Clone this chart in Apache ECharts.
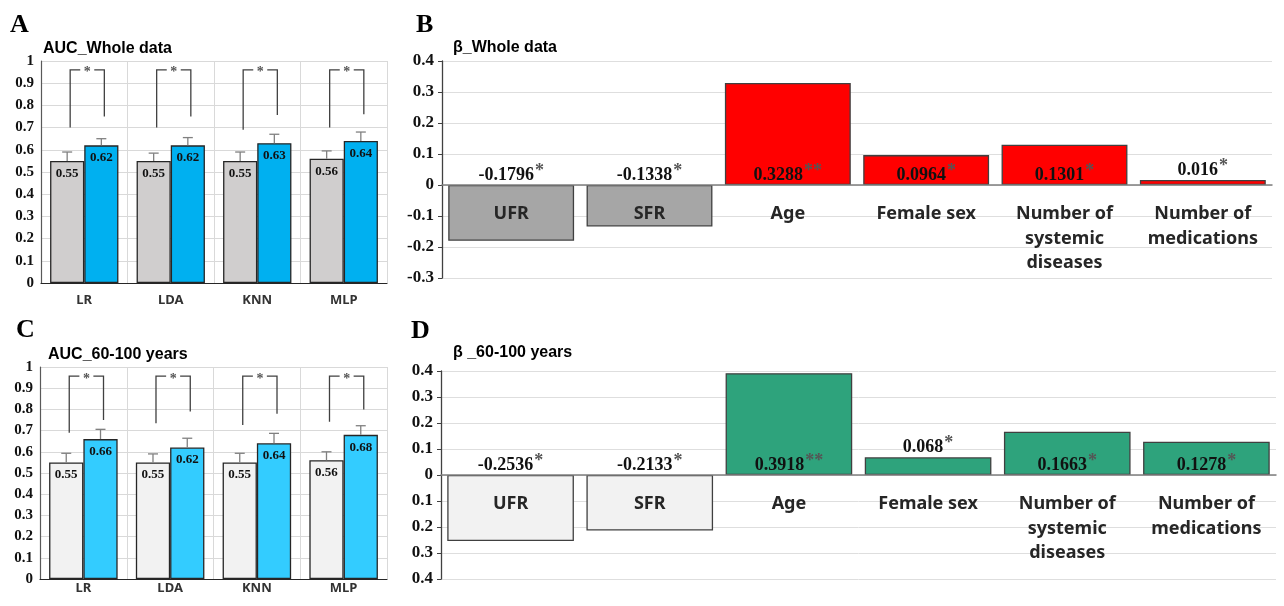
<!DOCTYPE html>
<html>
<head>
<meta charset="utf-8">
<script src="https://cdn.jsdelivr.net/npm/echarts@6/dist/echarts.min.js"></script>
<style>
  html, body { margin: 0; padding: 0; background: #fff; }
  #chart { width: 1284px; height: 606px; }
</style>
</head>
<body>
<div id="chart"></div>
<script>
// ---- AUC panels (A: whole data, C: 60-100 years) ----
const methods = ['LR', 'LDA', 'KNN', 'MLP'];

const aucWholeBase = [0.55, 0.55, 0.55, 0.56];
const aucWholeModel = [0.62, 0.62, 0.63, 0.64];
const aucWholeBaseErrTop = [0.59, 0.585, 0.59, 0.595];
const aucWholeModelErrTop = [0.65, 0.655, 0.67, 0.68];
const sigWholeLeft = [0.70, 0.70, 0.69, 0.70];
const sigWholeRight = [0.75, 0.75, 0.757, 0.76];
const sigWholeTop = [0.96, 0.96, 0.96, 0.96];

const aucOldBase = [0.55, 0.55, 0.55, 0.56];
const aucOldModel = [0.66, 0.62, 0.64, 0.68];
const aucOldBaseErrTop = [0.593, 0.59, 0.593, 0.60];
const aucOldModelErrTop = [0.706, 0.664, 0.687, 0.723];
const sigOldLeft = [0.69, 0.735, 0.726, 0.742];
const sigOldRight = [0.75, 0.79, 0.78, 0.80];
const sigOldTop = [0.957, 0.957, 0.957, 0.957];

// ---- Beta panels (B: whole data, D: 60-100 years) ----
const factors = ['UFR', 'SFR', 'Age', 'Female sex', 'Number of\nsystemic\ndiseases', 'Number of\nmedications'];
const betaWhole = [-0.1796, -0.1338, 0.3288, 0.0964, 0.1301, 0.016];
const betaWholeSig = ['*', '*', '**', '*', '*', '*'];
const betaOld = [-0.2536, -0.2133, 0.3918, 0.068, 0.1663, 0.1278];
const betaOldSig = ['*', '*', '**', '*', '*', '*'];

const SERIF = '"Liberation Serif", "Times New Roman", serif';
const SANS = '"Liberation Sans", Arial, sans-serif';
const GOTHIC = '"Noto Sans", "DejaVu Sans", sans-serif';

const aucGap = 0.21;   // category gap of the paired AUC bars
const betaGap = 0.09;  // category gap of the beta bars

const grids = [
  { left: 41, top: 61, width: 346, height: 222 },   // A
  { left: 442, top: 61, width: 830, height: 217 },  // B
  { left: 40, top: 367, width: 347, height: 212 },  // C
  { left: 441, top: 371, width: 835, height: 208 }  // D
];
const betaRangeB = [-0.3, 0.4];
const betaRangeD = [-0.4, 0.4];

function fmtTick(v) {
  if (Math.abs(v) < 1e-9) return '0';
  if (Math.abs(v - 1) < 1e-9) return '1';
  return v.toFixed(1);
}

function aucXAxis(grid, margin) {
  return {
    type: 'category', gridIndex: grid, data: methods,
    axisLine: { lineStyle: { color: '#262626', width: 1.2 } },
    axisTick: { show: false },
    splitLine: { show: true, lineStyle: { color: '#d9d9d9', width: 1 } },
    axisLabel: { margin: margin, fontFamily: GOTHIC, fontWeight: 'bold', fontSize: 13, color: '#333' }
  };
}
function aucYAxis(grid) {
  return {
    type: 'value', gridIndex: grid, min: 0, max: 1, interval: 0.1,
    axisLine: { show: true, lineStyle: { color: '#595959', width: 1.2 } },
    axisTick: { show: false },
    splitLine: { lineStyle: { color: '#d9d9d9', width: 1 } },
    axisLabel: { formatter: fmtTick, fontFamily: SERIF, fontWeight: 'bold', fontSize: 15, color: '#111', margin: 7 }
  };
}
// Category axis of a beta panel, lifted from the grid bottom up to the zero line
function betaXAxis(grid, range) {
  const lift = grids[grid].height * (0 - range[0]) / (range[1] - range[0]);
  return {
    type: 'category', gridIndex: grid, data: factors, z: 10,
    offset: -lift,
    axisLine: { onZero: false, lineStyle: { color: '#7f7f7f', width: 1.5 } },
    axisTick: { show: false },
    axisLabel: { margin: 17, fontFamily: GOTHIC, fontWeight: 'bold', fontSize: 18, lineHeight: 24.5, color: '#262626', interval: 0 }
  };
}
function betaYAxis(grid, range, fmt) {
  return {
    type: 'value', gridIndex: grid, min: range[0], max: range[1], interval: 0.1,
    axisLine: { show: true, lineStyle: { color: '#404040', width: 1.3 } },
    axisTick: { show: true, length: 4, lineStyle: { color: '#404040' } },
    splitLine: { lineStyle: { color: '#dedede', width: 1 } },
    axisLabel: { formatter: fmt, fontFamily: SERIF, fontWeight: 'bold', fontSize: 17, color: '#111', margin: 8 }
  };
}

function aucBars(ax, values, color) {
  return {
    type: 'bar', xAxisIndex: ax, yAxisIndex: ax, data: values,
    barGap: '0%', barCategoryGap: (aucGap * 100) + '%',
    itemStyle: { color: color, borderColor: '#262626', borderWidth: 1.3 },
    label: {
      show: true, position: 'insideTop', distance: 6,
      formatter: p => p.value.toFixed(2),
      fontFamily: SERIF, fontWeight: 'bold', fontSize: 13, color: '#111'
    }
  };
}

// Upward error bars with a short cap, placed over the left (-1) or right (+1) bar of a pair
function errorBars(ax, bases, tops, side) {
  return {
    type: 'custom', xAxisIndex: ax, yAxisIndex: ax, z: 4, silent: true,
    data: bases.map((v, i) => [i, v, tops[i]]),
    renderItem(params, api) {
      const b = api.coord([api.value(0), api.value(1)]);
      const t = api.coord([api.value(0), api.value(2)]);
      const bw = api.size([1, 0])[0] * (1 - aucGap) / 2;
      const x = b[0] + side * bw / 2;
      const st = { stroke: '#808080', lineWidth: 1.3 };
      return {
        type: 'group', children: [
          { type: 'line', shape: { x1: x, y1: b[1], x2: x, y2: t[1] }, style: st },
          { type: 'line', shape: { x1: x - 5, y1: t[1], x2: x + 5, y2: t[1] }, style: st }
        ]
      };
    }
  };
}

// Significance brackets joining the two bars of each pair, with a star in the gap
function brackets(ax, lefts, rights, tops) {
  return {
    type: 'custom', xAxisIndex: ax, yAxisIndex: ax, z: 4, silent: true,
    data: lefts.map((v, i) => [i, v, rights[i], tops[i]]),
    renderItem(params, api) {
      const i = api.value(0);
      const l = api.coord([i, api.value(1)]);
      const r = api.coord([i, api.value(2)]);
      const t = api.coord([i, api.value(3)]);
      const bw = api.size([1, 0])[0] * (1 - aucGap) / 2;
      const lx = t[0] - bw / 2 + 3, rx = t[0] + bw / 2 + 3;
      const mx = (lx + rx) / 2;
      const st = { stroke: '#404040', lineWidth: 1.3, fill: null };
      return {
        type: 'group', children: [
          { type: 'polyline', shape: { points: [[lx, l[1]], [lx, t[1]], [mx - 7, t[1]]] }, style: st },
          { type: 'polyline', shape: { points: [[mx + 7, t[1]], [rx, t[1]], [rx, r[1]]] }, style: st },
          { type: 'text', x: mx, y: t[1] + 3, style: { text: '*', fill: '#555', font: 'bold 14px ' + SERIF, align: 'center', verticalAlign: 'middle' } }
        ]
      };
    }
  };
}

function betaBars(ax, values, negColor, posColor) {
  return {
    type: 'bar', xAxisIndex: ax, yAxisIndex: ax,
    data: values.map(v => ({ value: v, itemStyle: { color: v < 0 ? negColor : posColor } })),
    barCategoryGap: (betaGap * 100) + '%',
    itemStyle: { borderColor: '#404040', borderWidth: 1.3 }
  };
}

// Coefficient labels sit just above the zero line; very short positive bars get theirs above the bar
function betaLabels(ax, values, sig) {
  return {
    type: 'scatter', xAxisIndex: ax, yAxisIndex: ax, symbolSize: 0, z: 6, silent: true,
    itemStyle: { opacity: 1 },
    data: values.map((v, i) => ({ value: [i, (v > 0 && v < 0.08) ? v : 0], txt: v, sig: sig[i] })),
    label: {
      show: true, position: 'top', distance: -3,
      formatter: p => '{v|' + p.data.txt + '}{s|' + p.data.sig + '}',
      rich: {
        v: { fontFamily: SERIF, fontWeight: 'bold', fontSize: 18, color: '#111' },
        s: { fontFamily: SERIF, fontWeight: 'bold', fontSize: 18, color: '#555', padding: [0, 0, 8, 1] }
      }
    }
  };
}

function txt(x, y, text, font, align) {
  return { type: 'text', x: x, y: y, style: { text: text, font: font, fill: '#000', align: align || 'left', verticalAlign: 'middle' } };
}

const chart = echarts.init(document.getElementById('chart'), null, { renderer: 'canvas' });
chart.setOption({
  backgroundColor: '#ffffff',
  animation: false,
  grid: grids.map(g => Object.assign({ outerBoundsMode: 'none' }, g)),
  xAxis: [aucXAxis(0, 11), betaXAxis(1, betaRangeB), aucXAxis(2, 3), betaXAxis(3, betaRangeD)],
  yAxis: [
    aucYAxis(0),
    betaYAxis(1, betaRangeB, fmtTick),
    aucYAxis(2),
    betaYAxis(3, betaRangeD, v => fmtTick(Math.abs(v)))
  ],
  series: [
    aucBars(0, aucWholeBase, '#d0cece'),
    aucBars(0, aucWholeModel, '#00b0f0'),
    errorBars(0, aucWholeBase, aucWholeBaseErrTop, -1),
    errorBars(0, aucWholeModel, aucWholeModelErrTop, 1),
    brackets(0, sigWholeLeft, sigWholeRight, sigWholeTop),

    aucBars(2, aucOldBase, '#f2f2f2'),
    aucBars(2, aucOldModel, '#33ccff'),
    errorBars(2, aucOldBase, aucOldBaseErrTop, -1),
    errorBars(2, aucOldModel, aucOldModelErrTop, 1),
    brackets(2, sigOldLeft, sigOldRight, sigOldTop),

    betaBars(1, betaWhole, '#a6a6a6', '#ff0000'),
    betaLabels(1, betaWhole, betaWholeSig),
    betaBars(3, betaOld, '#f2f2f2', '#2ea37c'),
    betaLabels(3, betaOld, betaOldSig)
  ],
  graphic: [
    txt(10, 25, 'A', 'bold 26px ' + SERIF),
    txt(43, 49, 'AUC_Whole data', 'bold 16px ' + SANS),
    txt(16, 330, 'C', 'bold 26px ' + SERIF),
    txt(48, 355, 'AUC_60-100 years', 'bold 16px ' + SANS),
    txt(416, 25, 'B', 'bold 26px ' + SERIF),
    txt(453, 48, 'β_Whole data', 'bold 16px ' + SANS),
    txt(411, 331, 'D', 'bold 26px ' + SERIF),
    txt(453, 353, 'β _60-100 years', 'bold 16px ' + SANS)
  ]
});
</script>
</body>
</html>
